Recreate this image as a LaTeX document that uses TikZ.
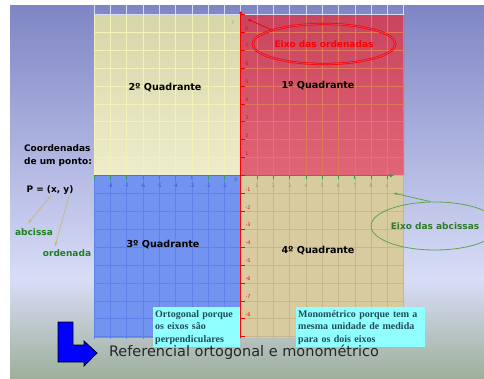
\documentclass[tikz,border=0pt]{standalone}
\usepackage{fontspec}
\setmainfont{DejaVu Sans}
\newfontfamily\serifbox{Liberation Serif}
\usetikzlibrary{arrows.meta,positioning,shapes.geometric}
\definecolor{bgtop}{HTML}{7F86C5}
\definecolor{bgmid}{HTML}{D8DDF7}
\definecolor{bgbot}{HTML}{9DAF9A}
\definecolor{qtwotop}{HTML}{D6D6AA}
\definecolor{qtwobot}{HTML}{EDEDCB}
\definecolor{qtwoline}{HTML}{F4F2B4}
\definecolor{qonetop}{HTML}{C9445E}
\definecolor{qonebot}{HTML}{E06676}
\definecolor{qoneline}{HTML}{E27A5A}
\definecolor{qthree}{HTML}{7393F0}
\definecolor{qthreeline}{HTML}{5F82EA}
\definecolor{qfour}{HTML}{D8CBA0}
\definecolor{qfourline}{HTML}{C6B68A}
\definecolor{stripline}{HTML}{D8DCF4}
\definecolor{xaxiscol}{HTML}{2E9E46}
\definecolor{ordfill}{HTML}{D84A66}
\definecolor{abscol}{HTML}{5FA64E}
\definecolor{abstext}{HTML}{2D7A2A}
\definecolor{ptgreen}{HTML}{1F7F1F}
\definecolor{tancol}{HTML}{C9B46A}
\definecolor{notecyan}{HTML}{90FFFF}
\definecolor{notetext}{HTML}{1F4C5A}
\definecolor{xpos}{HTML}{7BA84A}
\definecolor{xneg}{HTML}{3A56A8}
\definecolor{ylab}{HTML}{E8905A}
\begin{document}
\begin{tikzpicture}[x=1pt, y=-1pt,
  tag/.style={font=\bfseries\fontsize{9}{13}\selectfont, inner sep=1pt},
  quad/.style={font=\bfseries\fontsize{9.6}{12}\selectfont, inner sep=1pt},
  note/.style={fill=notecyan, anchor=north west, align=left, inner sep=2pt,
               font=\serifbox\bfseries\fontsize{10}{12.5}\selectfont, text=notetext},
  num/.style={font=\fontsize{4.8}{5}\selectfont, inner sep=0pt},
  pointer/.style={-{Latex[length=4pt,width=3pt]}, line width=0.8pt}
]
  \useasboundingbox (0,0) rectangle (484,379);
  \fill[white] (0,0) rectangle (484,379);
  \shade[top color=bgtop, bottom color=bgmid] (10,6) rectangle (484,280);
  \shade[top color=bgmid, bottom color=bgbot] (10,280) rectangle (484,379);

  \shade[top color=qtwotop, bottom color=qtwobot] (94,14.4) rectangle (240.7,175.5);
  \shade[top color=qonetop, bottom color=qonebot] (240.7,14.4) rectangle (404,175.5);
  \fill[qthree] (94,175.5) rectangle (240.7,338);
  \fill[qfour] (240.7,175.5) rectangle (404,338);

  \foreach \xa/\xb/\ya/\yb/\col in {94/240.7/14.4/175.5/qtwoline, 240.7/404/14.4/175.5/qoneline,
      94/240.7/175.5/338/qthreeline, 240.7/404/175.5/338/qfourline, 94/404/6/14.4/stripline} {
    \begin{scope}
      \clip (\xa,\ya) rectangle (\xb,\yb);
      \foreach \i in {-9,...,10} \draw[draw=\col, line width=0.6pt] (240.7+16.3*\i,0) -- ++(0,379);
      \foreach \j in {-9,...,9} \draw[draw=\col, line width=0.6pt] (0,175.5-17.9*\j) -- ++(484,0);
    \end{scope}
  }

  \draw[xaxiscol, line width=1.2pt, -{Latex[length=4pt,width=4pt]}] (94,175.5) -- (394,175.5);
  \foreach \i in {-9,...,9} \draw[xaxiscol, line width=0.7pt] (240.7+16.3*\i,175.5) -- ++(0,3.5);
  \draw[red, line width=1.2pt] (240.7,13) -- (240.7,338);
  \fill[red] (240.7,13) circle (1.6);
  \foreach \j in {-9,...,9} \draw[red, line width=0.6pt] (240.7,175.5-17.9*\j) -- ++(4,0);

  \foreach \i in {1,...,8} \node[num, text=xpos] at (240.7+16.3*\i,186) {\i};
  \foreach \i in {-8,...,-1} \node[num, text=xneg] at (240.7+16.3*\i,186) {\i};
  \foreach \j in {1,...,8} \node[num, text=red] at (247,171.5-17.9*\j) {\j};
  \foreach \j in {1,...,8} \node[num, text=red] at (248,171.5+17.9*\j) {-\j};
  \node[num, text=xneg] (orig) at (236,180) {0};
  \node[num, text=xpos] (xlab) at (387,186) {x};
  \node[num, text=ylab] (ylab) at (233,23) {y};

  \node[quad] (qtwo) at (165,88) {2º Quadrante};
  \node[quad] (qone) at (318,86) {1º Quadrante};
  \node[quad] (qthr) at (163,245) {3º Quadrante};
  \node[quad] (qfou) at (318,251) {4º Quadrante};

  \node[tag, ellipse, draw=red, double=ordfill, double distance=0.8pt, line width=0.7pt,
        minimum width=116pt, minimum height=40pt, text=red] (ordell) at (324,44) {Eixo das ordenadas};
  \coordinate (ytip) at (247,19);
  \draw[pointer, red] (ordell.165) -- (ytip);

  \node[tag, ellipse, draw=abscol, line width=0.8pt, minimum width=120pt, minimum height=48pt,
        text=abstext] (absell) at (435,226) {Eixo das abcissas};
  \coordinate (xtip) at (393,193);
  \draw[pointer, abscol] (absell.100) -- (xtip);

  \node[tag, align=left] (coord) at (58,156) {Coordenadas\\de um ponto:};
  \node[tag] (pxy) at (50,190) {P = (x, y)};
  \node[tag, text=ptgreen] (absc) at (34,232) {abcissa};
  \node[tag, text=ptgreen] (orde) at (67,253) {ordenada};
  \draw[pointer, tancol, line width=0.6pt] ([xshift=1pt]pxy.south) -- ([xshift=-6pt,yshift=4pt]absc.north);
  \draw[pointer, tancol, line width=0.6pt] ([xshift=19pt]pxy.south) -- ([xshift=-12pt,yshift=2pt]orde.north);

  \node[note, text width=83pt, minimum height=40pt] (ortho) at (153,307)
    {Ortogonal porque\\os eixos são\\perpendiculares};
  \node[note, text width=125pt, minimum height=40pt] (mono) at (296,307)
    {Monométrico porque tem a\\mesma unidade de medida\\para os dois eixos};

  \draw[fill=blue, line width=0.8pt] (58,322) -- (73,322) -- (73,345) -- (84,345) -- (84,341)
    -- (97,353) -- (84,366) -- (84,362) -- (58,362) -- cycle;
  \node[font=\fontsize{14.5}{17}\selectfont, text=black!85] (refl) at (244,352)
    {Referencial ortogonal e monométrico};
\end{tikzpicture}
\end{document}
